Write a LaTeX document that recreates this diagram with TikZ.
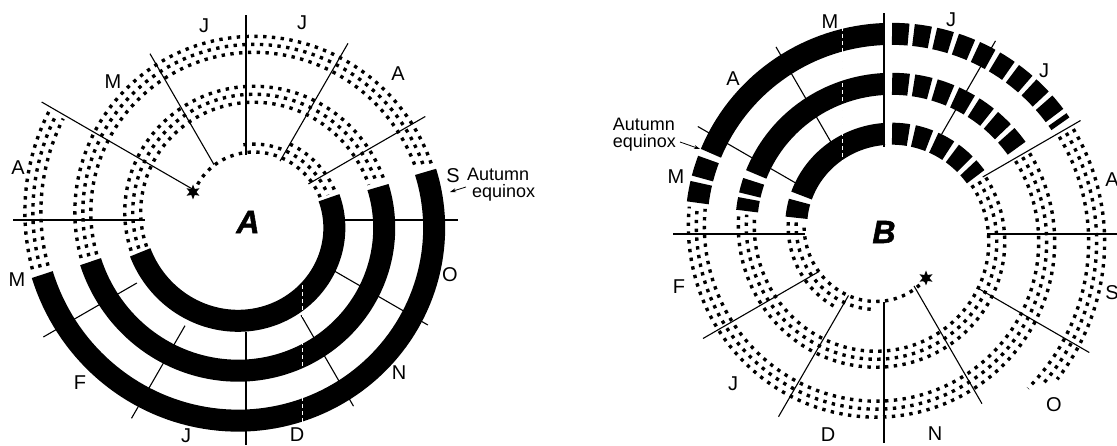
\documentclass[tikz,border=0pt]{standalone}
\usepackage{fontspec}
\setmainfont{Liberation Sans}
\newfontfamily\heavyfont[FakeBold=1.6]{Liberation Sans}
\usetikzlibrary{shapes.geometric,calc,arrows.meta}
% spiral piece: #1 cx, #2 cy, #3 r0, #4 radial offset, #5 t start, #6 t end, #7 style
\newcommand\spir[7]{%
  \pgfmathsetmacro\spirN{int(abs((#6)-(#5))/2)+2}%
  \draw[#7] plot[domain=#5:#6, samples=\spirN, variable=\t]
    ({#1+(#3-0.138889*\t+#4)*cos(\t)}, {#2+(#3-0.138889*\t+#4)*sin(\t)});%
}
\newcommand\dotband[5]{% three rows of dots
  \foreach \d in {-8,0,8} {\spir{#1}{#2}{#3}{\d}{#4}{#5}{dotrow}}%
}
\tikzset{
  dotrow/.style={line width=3.4pt, dash pattern=on 3.4pt off 5.4pt},
  band/.style={line width=22pt},
  blocks/.style={line width=22pt, dash pattern=on 16.5pt off 5pt},
  spoke/.style={line width=1.1pt},
  solst/.style={line width=1pt, dash pattern=on 4pt off 3pt},
  lab/.style={font=\fontsize{20}{22}\selectfont, inner sep=0pt},
  eqx/.style={font=\fontsize{18}{17}\selectfont, inner sep=0pt},
  big/.style={font=\fontsize{32}{34}\heavyfont\bfseries\itshape, inner sep=0pt},
  arr/.style={line width=0.8pt, -{Stealth[length=6pt,width=4pt]}},
  starmark/.style={star, star points=6, star point ratio=2.2, fill=black, inner sep=0pt, minimum size=15pt}
}
\begin{document}
\begin{tikzpicture}[x=1pt,y=1pt]
\useasboundingbox (0,0) rectangle (1117,445);
\fill[white] (0,0) rectangle (1117,445);
% ================= A =================
\coordinate (cA) at (246,225);
\foreach \a/\ri/\ro in {150/59/236,120/64/192,90/65/205,60/68/204,30/72/207,0/99/212,180/101/233,-30/100/210,-60/110/215,-90/112/225,-120/122/229,-150/126/234}
  {\draw[spoke] ($(cA)+(\a:\ri)$) -- ($(cA)+(\a:\ro)$);}
\draw[solst] (302,160) -- (302,15);
% dotted parts
\spir{246}{225}{88}{-8}{152}{17}{dotrow}
\spir{246}{225}{88}{0}{92}{17}{dotrow}
\spir{246}{225}{88}{8}{60}{17}{dotrow}
\dotband{246}{225}{88}{-165}{-344}
\dotband{246}{225}{88}{-527}{-703}
\dotband{246}{225}{88}{-887}{-929}
% black parts
\spir{246}{225}{88}{0}{15}{-163}{band}
\spir{246}{225}{88}{0}{-346}{-525}{band}
\spir{246}{225}{88}{0}{-705}{-885}{band}
\draw[solst, white] (302,160) -- (302,15);
\node[starmark] (starA) at (193,253) {};
\node[big] (lA) at (248,223) {A};
% labels A
\node[lab] (a1) at (204,419) {J};
\node[lab] (a2) at (302,422) {J};
\node[lab] (a3) at (398,371) {A};
\node[lab] (a4) at (453,269) {S};
\node[lab] (a5) at (450,170) {O};
\node[lab] (a6) at (399,72) {N};
\node[lab] (a7) at (297,10) {D};
\node[lab] (a8) at (186,9) {J};
\node[lab] (a9) at (80,62) {F};
\node[lab] (a10) at (17,165) {M};
\node[lab] (a11) at (18,277) {A};
\node[lab] (a12) at (113,363) {M};
\node[eqx, align=left, anchor=west] (eqA) at (467,260) {Autumn\\\hspace*{5pt}equinox};
\coordinate (eqAt) at (450,253);
\draw[arr] (466,258) -- (eqAt);
% ================= B =================
\coordinate (cB) at (884,211);
\foreach \a/\ri/\ro in {90/87/221,-90/68/209,180/79/211,0/103/240,30/114/227,60/115/223,120/100/216,150/100/215,-150/75/209,-120/71/211,-60/60/196,-30/108/237}
  {\draw[spoke] ($(cB)+(\a:\ri)$) -- ($(cB)+(\a:\ro)$);}
\draw[solst] (842,418) -- (842,272);
% start taper
\spir{884}{211}{62.5}{-8}{-47}{-188}{dotrow}
\spir{884}{211}{62.5}{0}{-100}{-188}{dotrow}
\spir{884}{211}{62.5}{8}{-125}{-188}{dotrow}
% ring 1
\spir{884}{211}{62.5}{0}{-190.5}{-201}{band}
\spir{884}{211}{62.5}{0}{-205}{-270}{band}
\spir{884}{211}{62.5}{0}{-274.6}{-328}{blocks}
\dotband{884}{211}{62.5}{-331}{-548}
% ring 2
\spir{884}{211}{62.5}{0}{-549.5}{-554.5}{band}
\spir{884}{211}{62.5}{0}{-556.2}{-562}{band}
\spir{884}{211}{62.5}{0}{-565}{-630}{band}
\spir{884}{211}{62.5}{0}{-633.1}{-688}{blocks}
\dotband{884}{211}{62.5}{-691}{-908}
% ring 3
\spir{884}{211}{62.5}{0}{-909.5}{-915.5}{band}
\spir{884}{211}{62.5}{0}{-917}{-923}{band}
\spir{884}{211}{62.5}{0}{-925}{-990}{band}
\spir{884}{211}{62.5}{0}{-992.3}{-1048}{blocks}
\spir{884}{211}{62.5}{-8}{-1051}{-1127}{dotrow}
\spir{884}{211}{62.5}{0}{-1051}{-1124}{dotrow}
\spir{884}{211}{62.5}{8}{-1051}{-1120}{dotrow}
\draw[solst, white] (842,418) -- (842,272);
\node[starmark] (starB) at (926,167) {};
\node[big] (lB) at (884,213) {B};
% labels B
\node[lab] (b1) at (830,423) {M};
\node[lab] (b2) at (951,425) {J};
\node[lab] (b3) at (1044,374) {J};
\node[lab] (b4) at (1112,265) {A};
\node[lab] (b5) at (1112,152) {S};
\node[lab] (b6) at (1054,40) {O};
\node[lab] (b7) at (935,11) {N};
\node[lab] (b8) at (828,10) {D};
\node[lab] (b9) at (733,61) {J};
\node[lab] (b10) at (679,158) {F};
\node[lab] (b11) at (676,268) {M};
\node[lab] (b12) at (733,366) {A};
\node[eqx, align=left, anchor=east] (eqB) at (676,310) {Autumn\\equinox};
\coordinate (eqBt) at (700,296);
\draw[arr] (680,303) -- (eqBt);
\end{tikzpicture}
\end{document}
